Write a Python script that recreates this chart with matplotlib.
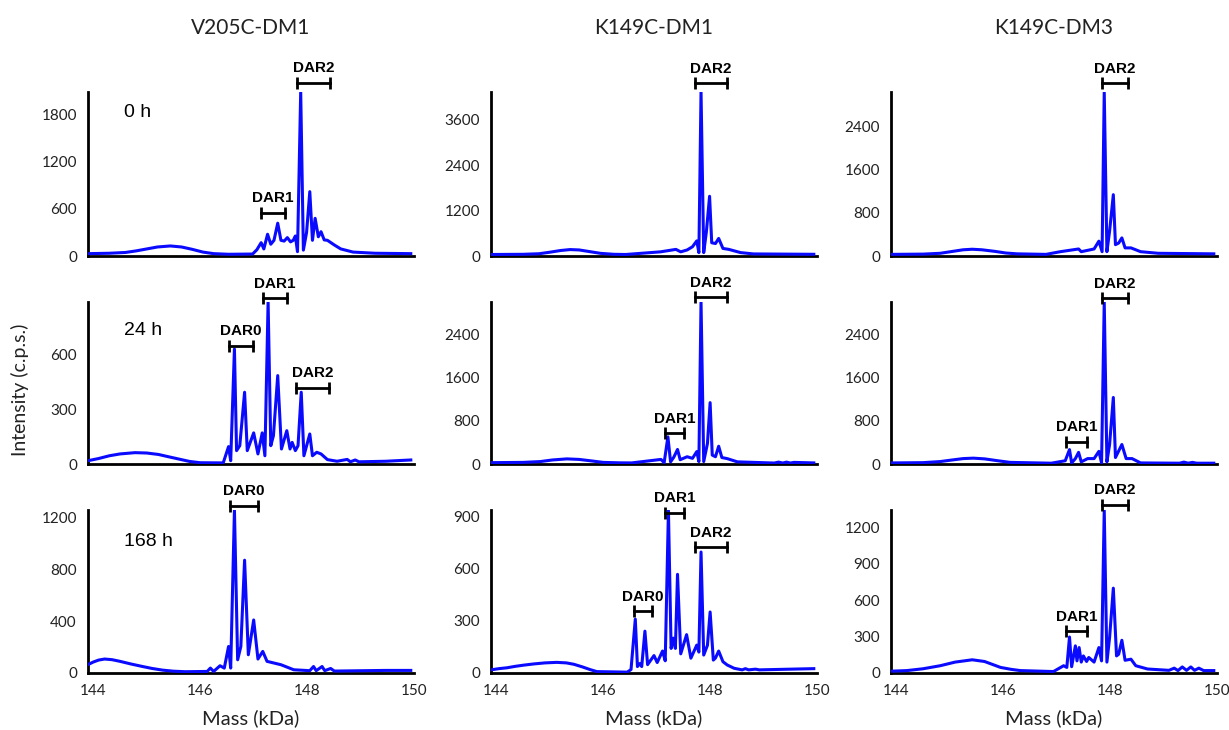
import matplotlib
matplotlib.use("Agg")
import matplotlib.pyplot as plt

# ---------------- data ----------------
titles = ["V205C-DM1", "K149C-DM1", "K149C-DM3"]
time_labels = ["0 h", "24 h", "168 h"]
x_ticks = [144, 146, 148, 150]

# V205C-DM1
v205_0h_mass = [143.90, 144.30, 144.60, 144.80, 145.00, 145.20, 145.44, 145.65, 145.85, 146.05, 146.25, 146.53,
                146.98, 147.06, 147.14, 147.19, 147.26,
                147.32, 147.38, 147.45, 147.51, 147.57, 147.63, 147.69, 147.74, 147.78, 147.82, 147.88, 147.93,
                147.99, 148.05, 148.10, 148.15, 148.21, 148.26, 148.32, 148.38, 148.51, 148.63, 148.86, 149.27, 149.94]
v205_0h_int = [30, 35, 45, 65, 90, 115, 128, 115, 85, 50, 30, 22,
               25, 80, 170, 90, 277,
               150, 200, 418, 200, 190, 234, 180, 200, 255, 55, 2090, 75,
               300, 820, 200, 480, 245, 310, 205, 200, 140, 90, 50, 35, 30]

v205_24h_mass = [143.90, 144.10, 144.30, 144.50, 144.78, 145.00, 145.22, 145.40, 145.60, 145.80, 146.00, 146.43,
                 146.53, 146.57, 146.64, 146.68,
                 146.74, 146.83, 146.88, 147.00, 147.08, 147.16, 147.21, 147.27, 147.32, 147.37, 147.45, 147.52,
                 147.62, 147.68, 147.72, 147.78, 147.83, 147.89, 147.94, 148.05, 148.10, 148.18, 148.26, 148.38,
                 148.56, 148.75, 148.81, 148.90, 148.97, 149.47, 149.94]
v205_24h_int = [18, 30, 45, 55, 62, 60, 52, 40, 27, 14, 7, 6,
                95, 18, 628, 73,
                100, 392, 73, 170, 55, 170, 45, 885, 100, 155, 483, 82,
                182, 82, 118, 73, 100, 392, 45, 164, 45, 64, 55, 24,
                15, 25, 12, 22, 12, 15, 22]

v205_168h_mass = [143.90, 144.00, 144.10, 144.21, 144.35, 144.50, 144.70, 144.90, 145.10, 145.30, 145.50, 145.72,
                  146.13, 146.19, 146.25, 146.37, 146.45, 146.53,
                  146.57, 146.64, 146.70, 146.76, 146.83, 146.90, 147.00, 147.08, 147.17, 147.25, 147.51, 147.75,
                  148.05, 148.12, 148.17, 148.28, 148.33, 148.44, 148.51, 149.47, 149.94]
v205_168h_int = [65, 85, 100, 108, 103, 90, 70, 52, 35, 22, 14, 10,
                 12, 38, 12, 56, 38, 205,
                 38, 1260, 102, 205, 872, 141, 410, 108, 167, 90, 64, 25,
                 18, 50, 18, 50, 18, 35, 15, 20, 20]

# K149C-DM1
k1_0h_mass = [143.90, 144.50, 144.80, 145.00, 145.20, 145.38, 145.55, 145.75, 145.95, 146.20, 146.42,
              147.07, 147.36, 147.45, 147.57, 147.67, 147.75, 147.79,
              147.83, 147.88, 147.93, 147.99, 148.03, 148.10, 148.16, 148.24, 148.35, 148.57, 148.81, 149.94]
k1_0h_int = [40, 45, 60, 100, 145, 170, 160, 115, 70, 45, 40,
             110, 175, 110, 160, 245, 400, 90,
             4340, 90, 640, 1580, 350, 330, 465, 200, 175, 90, 55, 45]

k1_24h_mass = [143.90, 144.50, 144.82, 145.05, 145.32, 145.55, 145.80, 146.00, 146.30, 146.53,
               147.08, 147.14, 147.21, 147.26, 147.32, 147.39, 147.44,
               147.57, 147.67, 147.75, 147.79, 147.83, 147.88, 147.95, 148.00, 148.04, 148.10, 148.16, 148.22,
               148.32, 148.51, 149.20, 149.28, 149.36, 149.43, 149.50, 149.57, 149.94]
k1_24h_int = [25, 30, 45, 75, 95, 85, 55, 30, 22, 20,
              85, 25, 505, 40, 125, 270, 80,
              135, 105, 230, 45, 3010, 45, 380, 1140, 165, 135, 330, 120,
              100, 40, 18, 35, 18, 35, 18, 30, 20]

k1_168h_mass = [143.90, 144.05, 144.20, 144.35, 144.51, 144.70, 144.91, 145.13, 145.31, 145.45, 145.61, 145.75,
                145.88, 146.45, 146.52, 146.60, 146.64,
                146.69, 146.72, 146.78, 146.83, 146.95, 147.01, 147.11, 147.16, 147.22, 147.27, 147.31, 147.35,
                147.39, 147.45, 147.56, 147.64, 147.75, 147.79, 147.83, 147.88, 147.95, 148.00, 148.06, 148.10,
                148.16, 148.24, 148.32, 148.45, 148.60, 148.66, 148.72, 148.85, 148.92, 149.94]
k1_168h_int = [18, 25, 30, 38, 45, 52, 58, 61, 58, 50, 35, 20,
               8, 5, 20, 309, 37,
               55, 37, 240, 48, 100, 60, 126, 70, 932, 141, 200, 141,
               566, 110, 220, 85, 160, 120, 694, 103, 159, 350, 74, 86,
               126, 65, 46, 27, 18, 25, 18, 22, 18, 25]

# K149C-DM3
k3_0h_mass = [143.90, 144.50, 144.82, 145.05, 145.25, 145.42, 145.60, 145.85, 146.05, 146.26, 146.80,
              147.07, 147.41, 147.46, 147.70, 147.79, 147.85, 147.89,
              147.94, 147.99, 148.06, 148.10, 148.16, 148.22, 148.28, 148.39, 148.57, 148.90, 149.94]
k3_0h_int = [30, 35, 50, 85, 115, 125, 115, 85, 55, 40, 30,
             80, 130, 80, 130, 275, 80, 3030,
             80, 460, 1135, 210, 240, 335, 150, 150, 80, 50, 40]

k3_24h_mass = [143.90, 144.50, 144.82, 145.05, 145.25, 145.44, 145.65, 145.90, 146.13, 146.90,
               147.16, 147.24, 147.28, 147.35, 147.41, 147.46, 147.58,
               147.70, 147.79, 147.84, 147.89, 147.94, 147.99, 148.06, 148.10, 148.22, 148.30, 148.41, 148.57,
               149.30, 149.38, 149.46, 149.54, 149.62, 149.94]
k3_24h_int = [20, 25, 45, 75, 100, 108, 95, 60, 30, 15,
              60, 266, 20, 100, 215, 40, 100,
              100, 234, 20, 2995, 40, 360, 1230, 120, 360, 100, 100, 20,
              15, 35, 15, 30, 15, 15]

k3_168h_mass = [143.90, 144.20, 144.50, 144.82, 145.10, 145.42, 145.65, 145.95, 146.15, 146.32, 146.94,
                147.13, 147.19, 147.24, 147.28, 147.35,
                147.38, 147.42, 147.46, 147.50, 147.56, 147.60, 147.70, 147.79, 147.84, 147.89, 147.94, 147.99,
                148.06, 148.12, 148.16, 148.22, 148.28, 148.39, 148.48, 148.70, 149.10, 149.20, 149.27, 149.35,
                149.43, 149.51, 149.58, 149.66, 149.75, 149.94]
k3_168h_int = [15, 20, 35, 60, 90, 109, 95, 46, 30, 20, 12,
               60, 46, 297, 52, 224,
               100, 210, 90, 141, 95, 128, 90, 210, 100, 1342, 90, 292,
               700, 141, 155, 270, 105, 114, 60, 33, 22, 40, 20, 50,
               22, 50, 22, 40, 20, 20]

panel_mass = [[v205_0h_mass, k1_0h_mass, k3_0h_mass],
              [v205_24h_mass, k1_24h_mass, k3_24h_mass],
              [v205_168h_mass, k1_168h_mass, k3_168h_mass]]
panel_int = [[v205_0h_int, k1_0h_int, k3_0h_int],
             [v205_24h_int, k1_24h_int, k3_24h_int],
             [v205_168h_int, k1_168h_int, k3_168h_int]]

y_tops = [[2090, 4340, 3035],
          [885, 3010, 2995],
          [1260, 935, 1345]]
y_ticks = [[[0, 600, 1200, 1800], [0, 1200, 2400, 3600], [0, 800, 1600, 2400]],
           [[0, 300, 600], [0, 800, 1600, 2400], [0, 800, 1600, 2400]],
           [[0, 400, 800, 1200], [0, 300, 600, 900], [0, 300, 600, 900, 1200]]]

# DAR brackets: (label, mass start, mass end, intensity level)
dar_brackets = [
    [[("DAR2", 147.82, 148.43, 2209), ("DAR1", 147.14, 147.58, 553)],
     [("DAR2", 147.71, 148.32, 4578)],
     [("DAR2", 147.85, 148.34, 3200)]],
    [[("DAR0", 146.53, 146.98, 646), ("DAR1", 147.17, 147.63, 905), ("DAR2", 147.80, 148.41, 417)],
     [("DAR1", 147.15, 147.52, 570), ("DAR2", 147.71, 148.32, 3100)],
     [("DAR1", 147.18, 147.56, 412), ("DAR2", 147.85, 148.34, 3063)]],
    [[("DAR0", 146.56, 147.08, 1292)],
     [("DAR0", 146.57, 146.92, 355), ("DAR1", 147.16, 147.51, 920), ("DAR2", 147.71, 148.31, 723)],
     [("DAR1", 147.18, 147.56, 346), ("DAR2", 147.85, 148.34, 1389)]],
]

# ---------------- layout ----------------
W, H = 1229, 730
fig = plt.figure(figsize=(W / 100, H / 100), dpi=100)
col_left = [88, 491, 891]
col_width = 326
row_top = [92, 302, 510]
row_bottom = [256, 464, 673]

tick_font = "Lato"
for r in range(3):
    for c in range(3):
        ax = fig.add_axes([col_left[c] / W, 1 - row_bottom[r] / H,
                           col_width / W, (row_bottom[r] - row_top[r]) / H])
        ax.plot(panel_mass[r][c], panel_int[r][c], color="#0a0aff", lw=2.2, zorder=3,
                solid_joinstyle="round")
        ax.set_xlim(143.9, 150.0)
        ax.set_ylim(0, y_tops[r][c])
        for s in ["top", "right"]:
            ax.spines[s].set_visible(False)
        for s in ["left", "bottom"]:
            ax.spines[s].set_linewidth(2.0)
            ax.spines[s].set_color("black")
        ax.set_yticks(y_ticks[r][c])
        ax.set_xticks(x_ticks)
        ax.tick_params(length=0, labelsize=11, pad=8)
        if r < 2:
            ax.set_xticklabels([])
        for lab in ax.get_xticklabels() + ax.get_yticklabels():
            lab.set_fontfamily(tick_font)
            lab.set_color("#222222")
        for (lab, x0, x1, yv) in dar_brackets[r][c]:
            ax.plot([x0, x1], [yv, yv], color="black", lw=2.0, marker="|",
                    markersize=9, mew=2.0, clip_on=False, zorder=4)
            ax.annotate(lab, xy=((x0 + x1) / 2, yv), xytext=(0, 7.5),
                        textcoords="offset points", ha="center", va="baseline",
                        fontsize=11, fontweight="bold", family="Liberation Sans",
                        annotation_clip=False)
        if r == 2:
            fig.text((col_left[c] + col_width / 2) / W, 1 - 718 / H, "Mass (kDa)",
                     ha="center", va="center", fontsize=14.5, family=tick_font, color="#222222")
    fig.text(124 / W, 1 - [112.7, 330.7, 541][r] / H, time_labels[r], ha="left", va="center",
             fontsize=14, family="Liberation Sans")

for c in range(3):
    fig.text((col_left[c] + col_width / 2) / W, 1 - 28 / H, titles[c], ha="center", va="center",
             fontsize=15, family=tick_font, color="#222222")

fig.text(20 / W, 1 - 390 / H, "Intensity (c.p.s.)", rotation=90, ha="center", va="center",
         fontsize=14, family=tick_font, color="#222222")

fig.savefig("out.png", dpi=100)
